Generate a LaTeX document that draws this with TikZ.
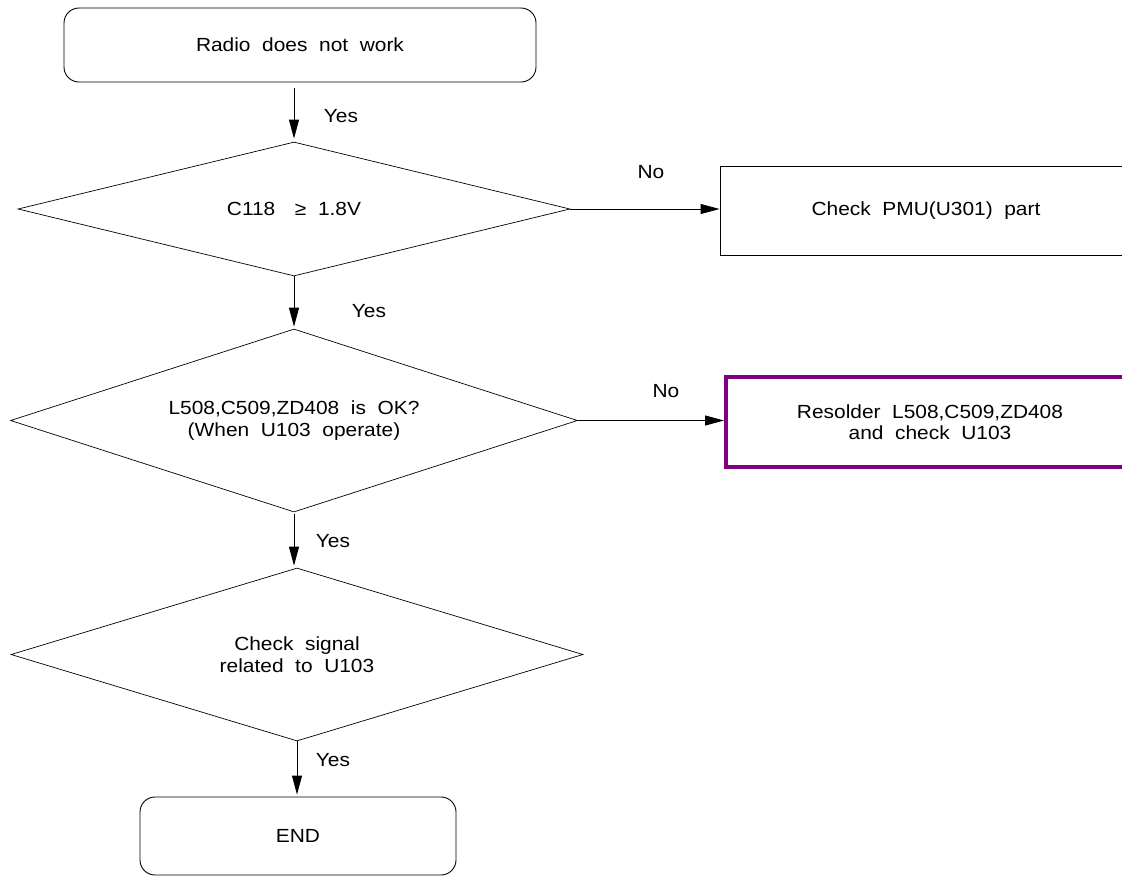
\documentclass[tikz,border=0pt]{standalone}
\usepackage{fontspec}
\setmainfont{Liberation Sans}[FakeStretch=1.1, WordSpace=2.0]
\usetikzlibrary{shapes.geometric,arrows.meta}
\definecolor{hotpurple}{RGB}{128,0,128}
\begin{document}
\begin{tikzpicture}[x=1pt,y=-1pt,
  every node/.style={font=\fontsize{19}{21.5}\selectfont},
  base/.style={draw, line width=0.9pt, inner sep=0pt, align=center},
  term/.style={base, rectangle, rounded corners=15pt},
  dec/.style={base, diamond, aspect=3, line width=0.7pt},
  proc/.style={base, rectangle},
  hot/.style={proc, draw=hotpurple, line width=4pt},
  flow/.style={-{Triangle[length=19pt,width=10pt]}, line width=0.9pt},
  lbl/.style={anchor=center}
]
\useasboundingbox (0,0) rectangle (1122,876);
\clip (0,0) rectangle (1122,876);

\node[term, minimum width=472pt, minimum height=74pt] (start) at (300,45) {Radio does not work};
\node[dec, minimum width=552pt, minimum height=134pt] (d1) at (294,209) {C118\hspace{8pt} ≥ 1.8V};
\node[proc, minimum width=412pt, minimum height=89pt] (pmu) at (926,210.5) {Check PMU(U301) part};
\node[dec, minimum width=567pt, minimum height=183pt] (d2) at (294,420.5) {L508,C509,ZD408 is OK?\\(When U103 operate)};
\node[hot, minimum width=408pt, minimum height=90pt] (res) at (930,422) {Resolder L508,C509,ZD408\\ and check U103};
\node[dec, minimum width=572pt, minimum height=173pt] (d3) at (297,654.5) {Check signal\\related to U103};
\node[term, minimum width=316pt, minimum height=78pt] (end) at (298,836) {END};

\draw[flow, shorten <=6pt, shorten >=3pt] (d1.north |- start.south) -- (d1.north);
\draw[flow] (d1.east) -- (d1.east -| pmu.west);
\draw[flow, shorten >=2pt] (d1.south) -- (d2.north);
\draw[flow] (d2.east) -- (d2.east -| res.west);
\draw[flow, shorten <=2pt, shorten >=2pt] (d2.south) -- (d2.south |- d3.north);
\draw[flow, shorten >=2pt] (d3.south) -- (d3.south |- end.north);

\node[lbl] (y1) at (341,116) {Yes};
\node[lbl] (y2) at (369,311) {Yes};
\node[lbl] (y3) at (333,541) {Yes};
\node[lbl] (y4) at (333,760) {Yes};
\node[lbl] (n1) at (651,172) {No};
\node[lbl] (n2) at (666,391) {No};
\end{tikzpicture}
\end{document}
